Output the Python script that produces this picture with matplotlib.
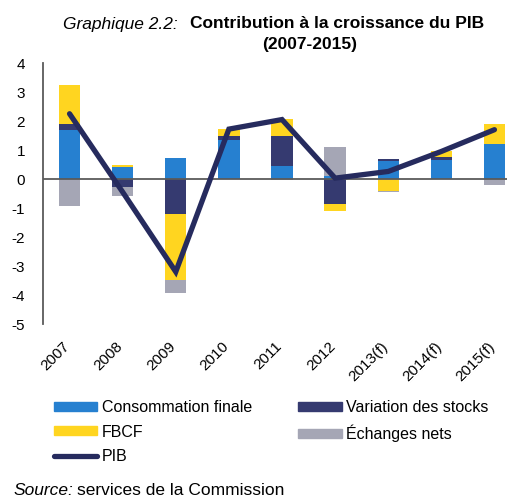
import matplotlib
matplotlib.use("Agg")
import matplotlib.pyplot as plt
from matplotlib.patches import Patch
from matplotlib.lines import Line2D
from matplotlib.transforms import ScaledTranslation
import numpy as np

plt.rcParams['font.family'] = ['Liberation Sans', 'DejaVu Sans']
plt.rcParams['axes.unicode_minus'] = False

# data
years = ['2007', '2008', '2009', '2010', '2011', '2012', '2013(f)', '2014(f)', '2015(f)']
consommation = [1.70, 0.40, 0.73, 1.36, 0.44, 0.12, 0.63, 0.64, 1.22]
stocks = [0.21, -0.26, -1.20, 0.11, 1.06, -0.87, 0.07, 0.12, 0.0]
fbcf = [1.32, 0.07, -2.28, 0.27, 0.57, -0.25, -0.40, 0.19, 0.66]
echanges = [-0.92, -0.34, -0.44, 0.0, -0.05, 0.97, -0.05, 0.0, -0.20]
pib = [2.25, -0.45, -3.2, 1.72, 2.05, 0.03, 0.26, 0.95, 1.70]

c_cons = '#2680d0'
c_stock = '#353a70'
c_fbcf = '#ffd520'
c_ech = '#a5a6b5'
c_pib = '#262b5e'

fig = plt.figure(figsize=(5.07, 4.98), dpi=100)
ax = fig.add_axes([43 / 507, (498 - 324) / 498, 478 / 507, 261 / 498])

# stacked bars, positives and negatives stacked separately
x = np.arange(len(years))
pos = np.zeros(len(years))
neg = np.zeros(len(years))
for vals, col in [(consommation, c_cons), (stocks, c_stock), (fbcf, c_fbcf), (echanges, c_ech)]:
    v = np.array(vals)
    bottom = np.where(v >= 0, pos, neg)
    ax.bar(x, v, 0.4, bottom=bottom, color=col, zorder=2)
    pos = pos + np.where(v >= 0, v, 0)
    neg = neg + np.where(v < 0, v, 0)

ax.axhline(0, color='#5a5a5a', lw=1.3, zorder=3)
ax.plot(x, pib, color=c_pib, lw=3.8, solid_capstyle='round', solid_joinstyle='miter', zorder=4)

ax.set_xlim(-0.5, 8.5)
ax.set_ylim(-5, 4)
ax.set_yticks(range(-5, 5))
ax.set_xticks(x)
ax.set_xticklabels(years, rotation=45, ha='right', va='top', rotation_mode='anchor')
ax.tick_params(axis='y', length=0, pad=13, labelsize=11)
ax.tick_params(axis='x', length=0, pad=11, labelsize=11)
shift = ScaledTranslation(-7 / 100, 0, fig.dpi_scale_trans)
for lab in ax.get_xticklabels():
    lab.set_transform(lab.get_transform() + shift)
for s in ['top', 'right', 'bottom']:
    ax.spines[s].set_visible(False)
ax.spines['left'].set_color('#5a5a5a')
ax.spines['left'].set_linewidth(1.3)

# title
fig.text(63 / 507, 1 - 24 / 498, 'Graphique 2.2:', style='italic', fontsize=12.5, ha='left', va='center')
fig.text(484 / 507, 1 - 24 / 498, 'Contribution à la croissance du PIB', weight='bold', fontsize=12.5,
         ha='right', va='center')
fig.text(310 / 507, 1 - 45 / 498, '(2007-2015)', weight='bold', fontsize=12.5, ha='center', va='center')

handles = [Patch(color=c_cons), Patch(color=c_fbcf),
           Line2D([0], [0], color=c_pib, lw=3.8, solid_capstyle='round'),
           Patch(color=c_stock), Patch(color=c_ech)]
labels = ['Consommation finale', 'FBCF', 'PIB', 'Variation des stocks', 'Échanges nets']
fig.legend(handles, labels, ncol=2, loc='upper left', bbox_to_anchor=(54 / 507, 1 - 400 / 498),
           frameon=False, fontsize=11.5, handlelength=2.7, handleheight=0.5, handletextpad=0.3,
           columnspacing=2.9, labelspacing=0.6, borderpad=0, borderaxespad=0)

src = fig.text(13 / 507, 1 - 490 / 498, 'Source:', style='italic', fontsize=12.5, ha='left', va='center')
fig.canvas.draw()
bb = src.get_window_extent()
fig.text((bb.x1 + 4) / 507, 1 - 490 / 498, 'services de la Commission', fontsize=12.5,
         ha='left', va='center')

fig.savefig('out.png', dpi=100)
